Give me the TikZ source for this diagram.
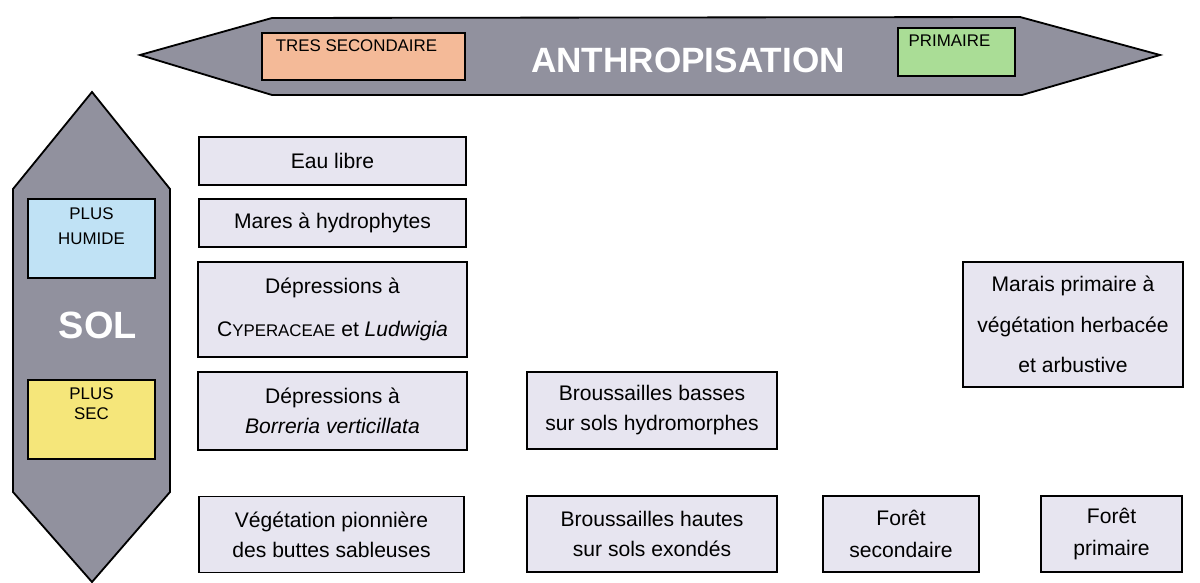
\documentclass[tikz,border=0pt]{standalone}
\usepackage{fontspec}
\setmainfont{Liberation Sans}
\definecolor{fleche}{RGB}{145,145,158}
\definecolor{unite}{RGB}{231,229,240}
\definecolor{saumon}{RGB}{244,186,152}
\definecolor{vert}{RGB}{170,221,150}
\definecolor{bleu}{RGB}{192,226,245}
\definecolor{jaune}{RGB}{245,230,122}

\begin{document}
\begin{tikzpicture}[x=0.025cm,y=-0.025cm,
  unite/.style={draw,line width=1pt,fill=unite,align=center,inner sep=0pt,
    font=\fontsize{15}{21.3}\selectfont},
  pole/.style={draw,line width=1pt,inner sep=0pt},
  etiquette/.style={anchor=north,align=center,inner sep=0pt,
    font=\fontsize{12}{17.5}\selectfont},
  axe/.style={draw,line width=1.3pt,fill=fleche},
  titre/.style={text=white,inner sep=0pt,font=\fontsize{25}{25}\selectfont\bfseries}]
\useasboundingbox (0,0) rectangle (1200,583);
\path[axe] (140,55) -- (272,18) -- (1020,17) -- (1160,55) -- (1022,95) -- (272,95) -- cycle;
\path[axe] (92,92) -- (170,189) -- (170,492) -- (92,582) -- (13,492) -- (13,189) -- cycle;
\node[titre] (anthro) at (688,60) {ANTHROPISATION};
\node[titre,font=\fontsize{27}{27}\selectfont\bfseries] (sol) at (98,325) {SOL};
\node[pole,fill=saumon,minimum width=5.075cm,minimum height=1.175cm,
  label={[etiquette,xshift=-5pt,yshift=-5pt]north:TRES SECONDAIRE}] (tressec) at (363.5,56.5) {};
\node[pole,fill=vert,minimum width=2.925cm,minimum height=1.2cm,
  label={[etiquette,xshift=-5pt,yshift=-5pt]north:PRIMAIRE}] (primaire) at (956.5,52) {};
\node[pole,fill=bleu,minimum width=3.175cm,minimum height=1.975cm,
  label={[etiquette,yshift=-6.5pt]north:PLUS\\HUMIDE}] (humide) at (91.5,238.5) {};
\node[pole,fill=jaune,minimum width=3.175cm,minimum height=1.975cm,
  label={[etiquette,yshift=-5.5pt,font=\fontsize{12}{14.5}\selectfont]north:PLUS\\SEC}] (sec) at (91.5,419.5) {};
\node[unite,minimum width=6.675cm,minimum height=1.2cm] (eau) at (332.5,161) {Eau libre};
\node[unite,minimum width=6.675cm,minimum height=1.2cm] (mares) at (332.5,223) {Mares à hydrophytes};
\node[unite,minimum width=6.725cm,minimum height=2.375cm,font=\fontsize{15}{30.5}\selectfont] (cyper) at (332.5,309.5)
  {Dépressions à\\C{\fontsize{12}{13}\selectfont YPERACEAE} et \textit{Ludwigia}};
\node[unite,minimum width=6.725cm,minimum height=1.95cm] (borreria) at (332.5,411)
  {Dépressions à\\\textit{Borreria verticillata}};
\node[unite,minimum width=6.625cm,minimum height=1.9cm] (pionniere) at (331.5,534.5)
  {Végétation pionnière\\des buttes sableuses};
\node[unite,minimum width=6.25cm,minimum height=1.925cm] (basses) at (652,410.5)
  {Broussailles basses\\sur sols hydromorphes};
\node[unite,minimum width=6.25cm,minimum height=1.9cm] (hautes) at (652,534)
  {Broussailles hautes\\sur sols exondés};
\node[unite,minimum width=3.9cm,minimum height=1.9cm,font=\fontsize{15}{23}\selectfont] (foretsec) at (901,534)
  {Forêt\\secondaire};
\node[unite,minimum width=3.525cm,minimum height=1.9cm,font=\fontsize{15}{23}\selectfont] (foretprim) at (1111.5,534)
  {Forêt\\primaire};
\node[unite,minimum width=5.5cm,minimum height=3.125cm,font=\fontsize{15}{29}\selectfont] (marais) at (1073,324.5)
  {Marais primaire à\\végétation herbacée\\et arbustive};
\end{tikzpicture}
\end{document}
